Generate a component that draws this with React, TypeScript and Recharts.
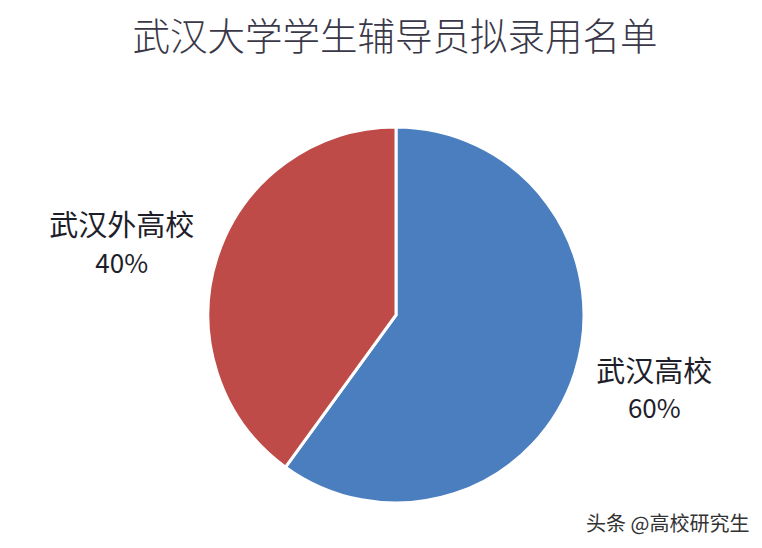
import React from 'react';
import { PieChart, Pie, Cell } from 'recharts';

const categories = ['武汉高校', '武汉外高校'];
const shares = [60, 40];
const colors = ['#4a7ebf', '#be4b48'];

const data = categories.map((name, i) => ({ name, value: shares[i] }));

const RAD = Math.PI / 180;
const font = '"Noto Sans CJK SC", "Noto Sans", sans-serif';

const renderLabel = (props: any) => {
  const { cx, cy, midAngle, outerRadius, name, value } = props;
  const r = outerRadius + 92;
  const x = cx + r * Math.cos(-midAngle * RAD) - 8;
  const y = cy + r * 0.84 * Math.sin(-midAngle * RAD);
  return (
    <g>
      <text x={x} y={y - 19} textAnchor="middle" dominantBaseline="central"
        fontSize={29} fill="#1e1e2a" fontFamily={font}>
        {name}
      </text>
      <text x={x} y={y + 19} textAnchor="middle" dominantBaseline="central"
        fontSize={26} fill="#1e1e2a" fontFamily={font}>
        {value}%
      </text>
    </g>
  );
};

export default function App() {
  return (
    <div style={{ position: 'absolute', left: 0, top: 0, width: 762, height: 548, background: '#fff', fontFamily: font }}>
      <div style={{
        position: 'absolute', left: 0, top: 6, width: 790, textAlign: 'center',
        fontSize: 37.5, lineHeight: '56px', color: '#3a3848', fontWeight: 300
      }}>
        武汉大学学生辅导员拟录用名单
      </div>
      <PieChart width={762} height={548} margin={{ top: 0, right: 0, bottom: 0, left: 0 }}>
        <Pie
          data={data}
          dataKey="value"
          nameKey="name"
          cx={396}
          cy={315}
          outerRadius={188}
          startAngle={90}
          endAngle={-270}
          stroke="#ffffff"
          strokeWidth={3}
          label={renderLabel}
          labelLine={false}
          isAnimationActive={false}
        >
          {data.map((d, i) => (
            <Cell key={d.name} fill={colors[i]} />
          ))}
        </Pie>
      </PieChart>
      <div style={{
        position: 'absolute', left: 586, top: 508, fontSize: 20, lineHeight: '30px',
        color: '#333', textShadow: '1px 1px 1px #fff', whiteSpace: 'nowrap'
      }}>
        头条 @高校研究生
      </div>
    </div>
  );
}
